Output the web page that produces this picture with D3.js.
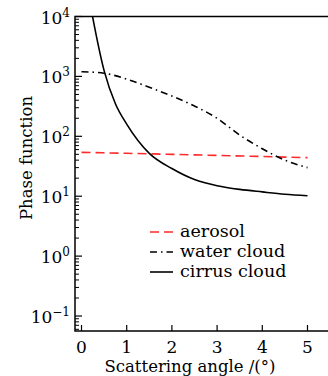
<!DOCTYPE html>
<html>
<head>
<meta charset="utf-8">
<script src="https://cdn.jsdelivr.net/npm/d3@7"></script>
<style>
  html, body { margin: 0; padding: 0; background: #fff; overflow: hidden; }
  svg { display: block; }
</style>
</head>
<body>
<div id="chart"></div>
<script>
// scattering phase function vs angle, log y
const aerosolAngle = [0, 1, 2, 3, 4, 5];
const aerosolValue = [54, 52, 50, 48, 46, 44];

const waterAngle = [0, 0.5, 1, 1.5, 2, 2.5, 3, 3.5, 4, 4.5, 5];
const waterValue = [1200, 1130, 900, 660, 470, 320, 200, 105, 62, 40, 30];

const cirrusAngle = [0.1, 0.25, 0.5, 0.75, 1, 1.5, 2, 2.5, 3, 3.5, 4, 4.5, 5];
const cirrusValue = [40000, 9500, 1250, 350, 160, 52, 29, 19, 15, 13, 11.8, 10.8, 10.2];

const xTicks = [0, 1, 2, 3, 4, 5];
const yExponents = [-1, 0, 1, 2, 3, 4];
const legendLabels = ["aerosol", "water cloud", "cirrus cloud"];

const FONT = "'DejaVu Serif', 'Liberation Serif', 'Noto Serif', 'Times New Roman', Tinos, serif";
const W = 328, H = 376;
const plotLeft = 75, plotTop = 16.5, plotBottom = 331, plotRight = 345;

const svg = d3.select("#chart").append("svg")
  .attr("width", W).attr("height", H)
  .attr("font-family", FONT);

const x = d3.scaleLinear().domain([-0.144, 5.83]).range([plotLeft, plotRight]);
const y = d3.scaleLog().domain([Math.pow(10, -1.25), 1e4]).range([plotBottom, plotTop]);

svg.append("clipPath").attr("id", "plot-clip")
  .append("rect").attr("x", plotLeft).attr("y", plotTop)
  .attr("width", plotRight - plotLeft).attr("height", plotBottom - plotTop);

// minor + major y ticks, pointing inward
const yMinor = [];
for (let e = -2; e < 4; e++) {
  for (let m = 2; m <= 9; m++) {
    const v = m * Math.pow(10, e);
    if (v >= y.domain()[0] && v <= 1e4) yMinor.push(v);
  }
}
svg.append("g").selectAll("line").data(yMinor).join("line")
  .attr("x1", plotLeft).attr("x2", plotLeft + 4)
  .attr("y1", d => y(d)).attr("y2", d => y(d))
  .attr("stroke", "#000").attr("stroke-width", 1);

svg.append("g").selectAll("line").data(yExponents).join("line")
  .attr("x1", plotLeft).attr("x2", plotLeft + 7)
  .attr("y1", d => y(Math.pow(10, d))).attr("y2", d => y(Math.pow(10, d)))
  .attr("stroke", "#000").attr("stroke-width", 1.2);

svg.append("g").selectAll("line").data(xTicks).join("line")
  .attr("x1", d => x(d)).attr("x2", d => x(d))
  .attr("y1", plotBottom).attr("y2", plotBottom - 6)
  .attr("stroke", "#000").attr("stroke-width", 1.2);

// frame
svg.append("rect")
  .attr("x", plotLeft).attr("y", plotTop)
  .attr("width", plotRight - plotLeft).attr("height", plotBottom - plotTop)
  .attr("fill", "none").attr("stroke", "#000").attr("stroke-width", 1.5);

// y tick labels 10^n
const yl = svg.append("g").selectAll("text").data(yExponents).join("text")
  .attr("x", 70).attr("y", d => y(Math.pow(10, d)) + 7)
  .attr("text-anchor", "end")
  .attr("font-size", 17);
yl.append("tspan").text("10");
yl.append("tspan").attr("dy", -7).attr("font-size", 12)
  .text(d => d < 0 ? "\u2212" + (-d) : String(d));

svg.append("g").selectAll("text").data(xTicks).join("text")
  .attr("x", d => x(d)).attr("y", 353)
  .attr("text-anchor", "middle")
  .attr("font-size", 17)
  .text(d => d);

svg.append("text")
  .attr("x", 190).attr("y", 372)
  .attr("text-anchor", "middle")
  .attr("font-size", 16.5)
  .text("Scattering angle /(\u00b0)");

svg.append("text")
  .attr("transform", "translate(32,158) rotate(-90)")
  .attr("text-anchor", "middle")
  .attr("font-size", 16.5)
  .text("Phase function");

// curves
const line = d3.line()
  .x(d => x(d[0])).y(d => y(d[1]))
  .curve(d3.curveMonotoneX);

const plot = svg.append("g").attr("clip-path", "url(#plot-clip)");

const series = [
  { a: aerosolAngle, v: aerosolValue, color: "#ff2a2a", dash: "9,5" },
  { a: waterAngle, v: waterValue, color: "#000", dash: "7,4,1.5,4" },
  { a: cirrusAngle, v: cirrusValue, color: "#000", dash: null }
];

series.forEach(s => {
  plot.append("path")
    .datum(d3.zip(s.a, s.v))
    .attr("d", line)
    .attr("fill", "none")
    .attr("stroke", s.color)
    .attr("stroke-width", 1.6)
    .attr("stroke-dasharray", s.dash);
});

// legend
const lg = svg.append("g");
const legendDash = ["9,5", "7,4,1.5,4", null];
legendLabels.forEach((lab, i) => {
  const yy = 232 + i * 20;
  lg.append("line")
    .attr("x1", 150).attr("x2", 173)
    .attr("y1", yy).attr("y2", yy)
    .attr("stroke", series[i].color)
    .attr("stroke-width", 1.6)
    .attr("stroke-dasharray", legendDash[i]);
  lg.append("text")
    .attr("x", 180).attr("y", yy + 5)
    .attr("font-size", 17.5)
    .text(lab);
});
</script>
</body>
</html>
